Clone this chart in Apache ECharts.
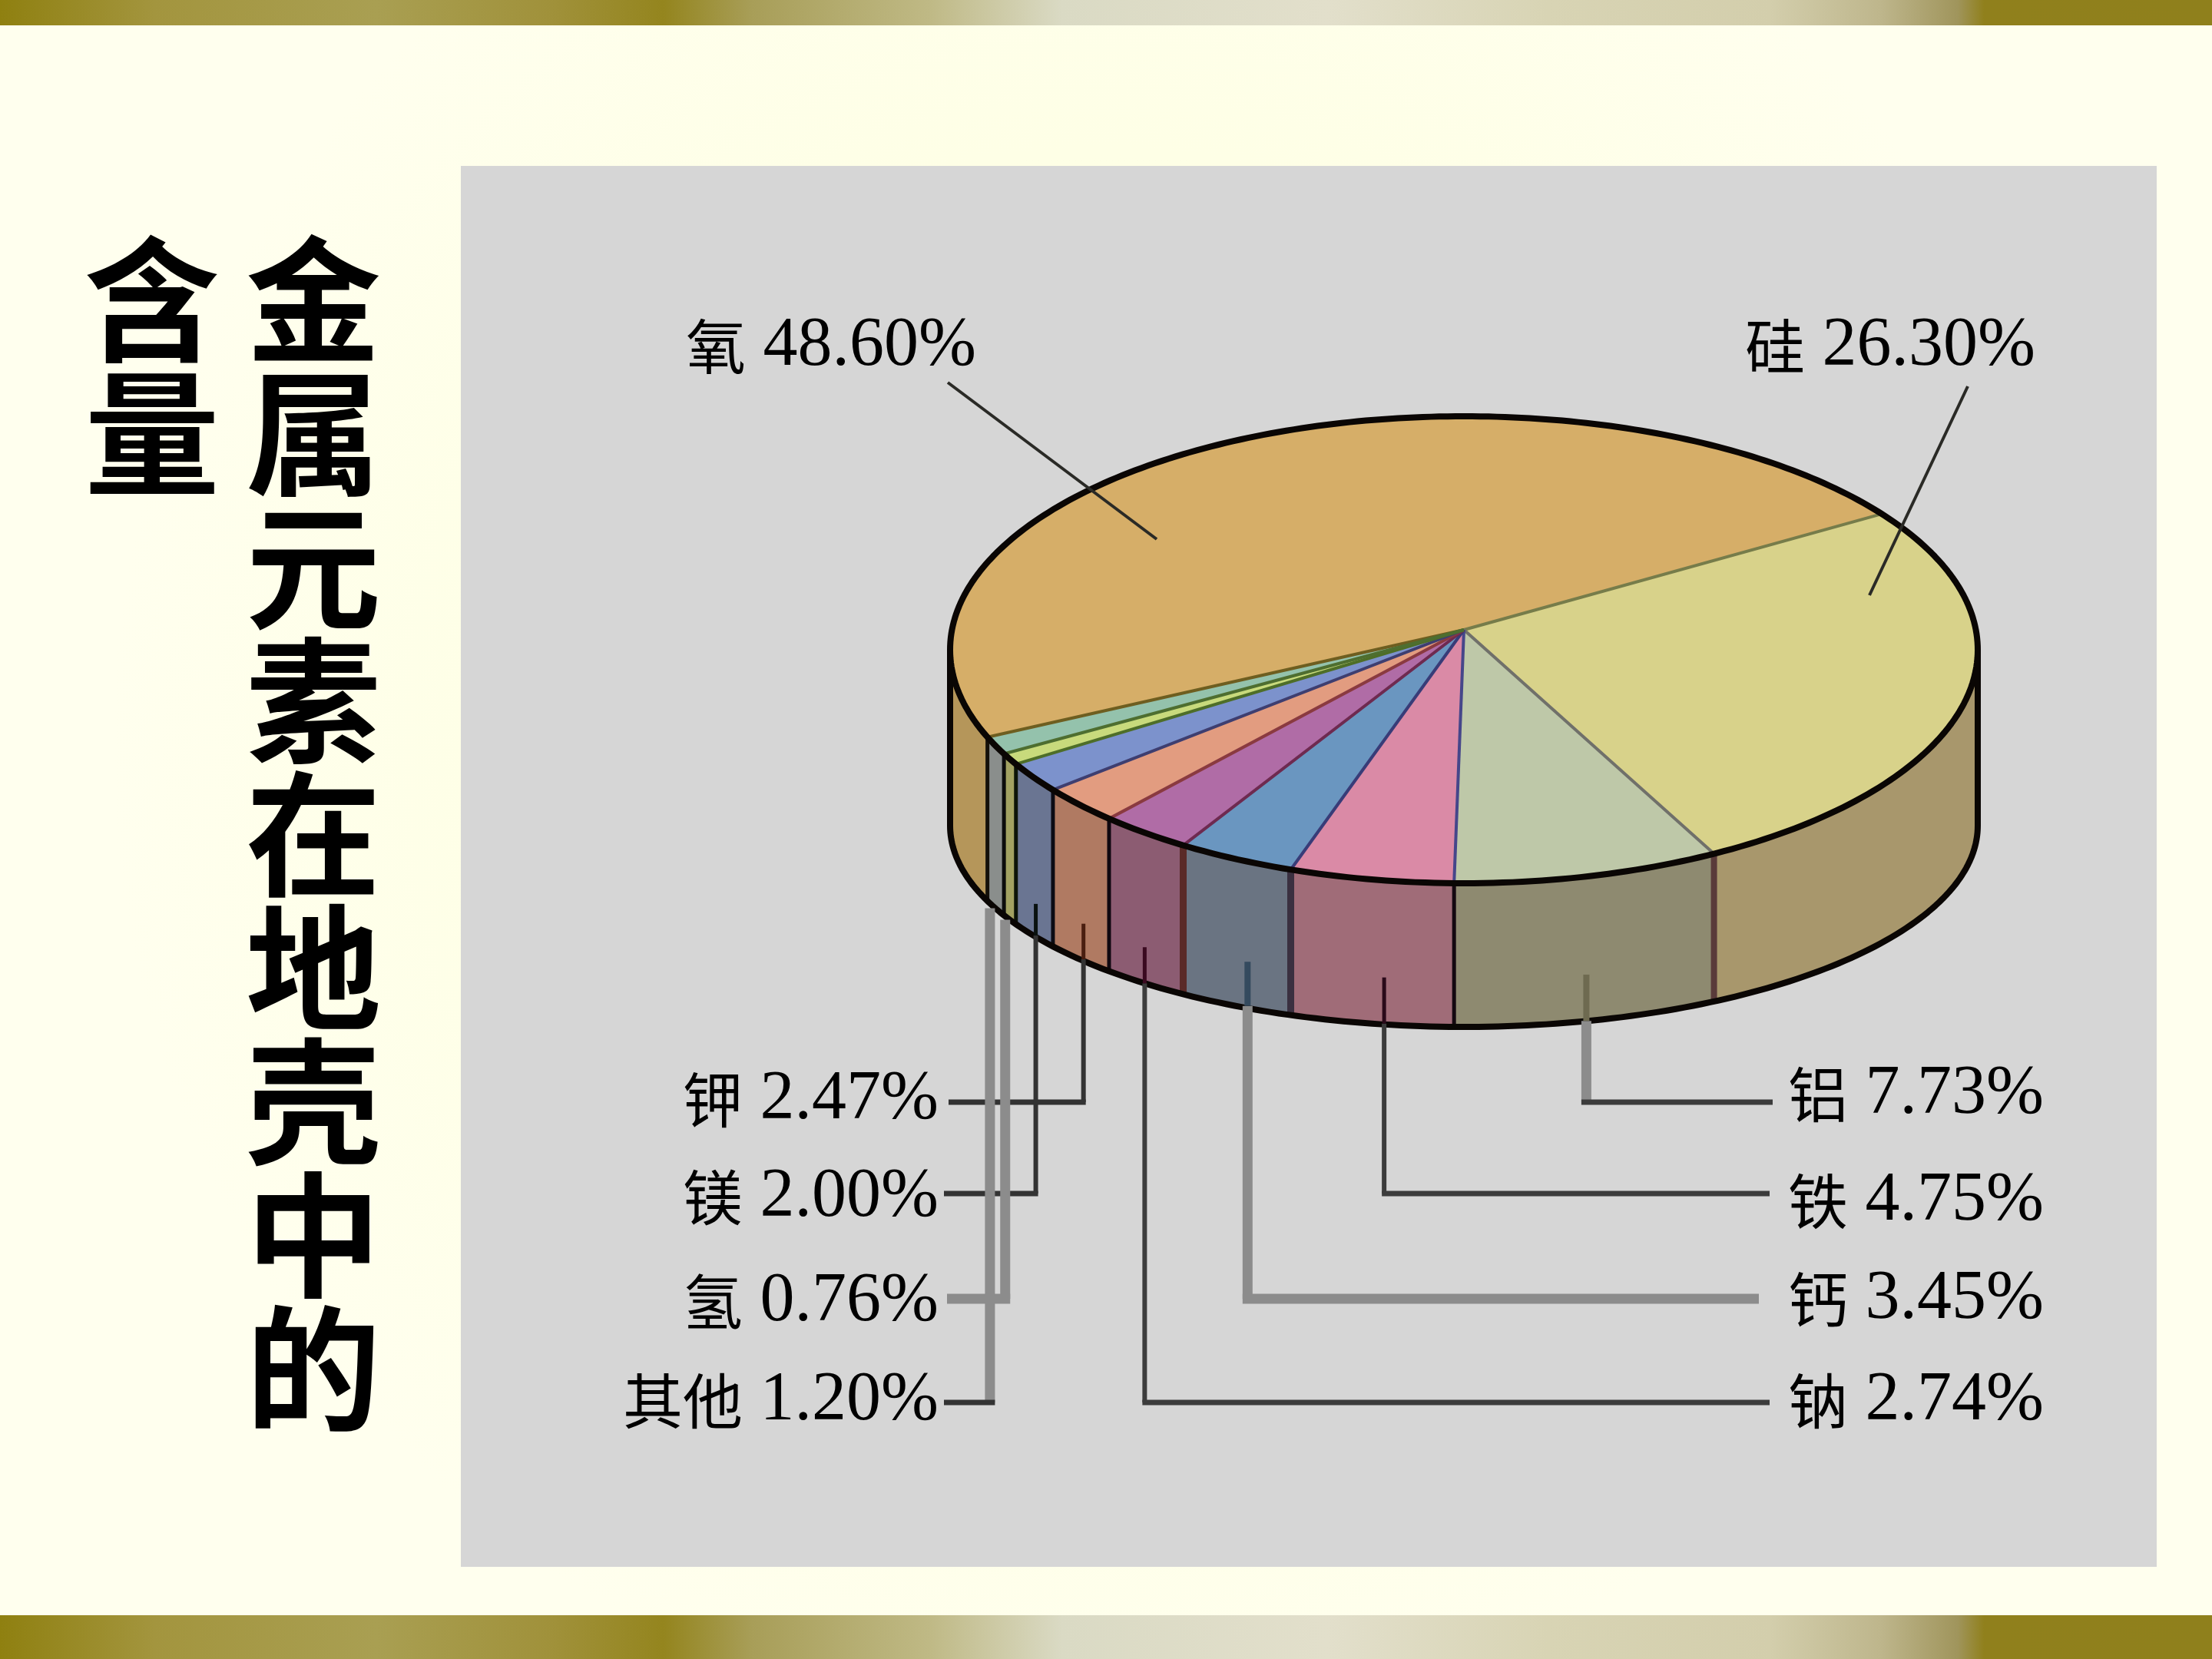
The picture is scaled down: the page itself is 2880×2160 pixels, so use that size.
<!DOCTYPE html>
<html>
<head>
<meta charset="utf-8">
<style>html,body{margin:0;padding:0;background:#fffff0}#c{width:2880px;height:2160px}</style>
<script src="https://cdn.jsdelivr.net/npm/echarts@6/dist/echarts.min.js"></script>
</head>
<body>
<div id="c"></div>
<script>
// ---- data ----
const elements = ['氧','硅','铝','铁','钙','钠','钾','镁','氢','其他'];
const percents = [48.60,26.30,7.73,4.75,3.45,2.74,2.47,2.00,0.76,1.20];
const titleColumns = ['金属元素在地壳中的','含量'];

// ---- styles ----
const topColors  = ['#D6AE68','#D8D28A','#BEC8A8','#DA8AA6','#6A96C0','#B06CA6','#E29C80','#7C92CC','#C8DA7C','#94C2AC'];
const sideColors = ['#B5965A','#A8976C','#8E8A70','#A06C78','#6A7482','#8C5C72','#B07A62','#6A7592','#A2A262','#8A8E8C'];
const topEdge    = ['#6E5E20','#767C4A','#70706A','#46468A','#383C78','#6E2A50','#8A3A40','#3E3E70','#4E6E28','#4E6E30'];
const sideEdge   = ['#14100A','#4F4526','#5A3A3A','#140810','#3A3040','#5A2A28','#100810','#0C0C14','#0C1408','#0C0C0C'];
const edgeWidth  = [5,7,8,5,9,9,5,5,5,5];

// geometry of the tilted disc
const G = {cx:1906, cyTop:846, rx:669, ryTop:304, cyBot:1075, ryBot:262, k:0.0855, startDeg:-31.5};
const rad = d => d*Math.PI/180;
const project = (deg, plane) => {
  const u = Math.cos(rad(deg)), v = Math.sin(rad(deg)), w = 1-G.k*v;
  const ry = plane==='top'?G.ryTop:G.ryBot, cy = plane==='top'?G.cyTop:G.cyBot;
  return [G.cx + G.rx*Math.sqrt(1-G.k*G.k)*u/w, cy + ry*(v-G.k)/w];
};
const total = percents.reduce((a,b)=>a+b,0);
const spans = [];
{ let a = G.startDeg; [1,2,3,4,5,6,7,8,9,0].forEach(i=>{ const s=percents[i]/total*360; spans[i]=[a,a+s]; a+=s; }); }
const silhouette = [Math.asin(G.k)*180/Math.PI, 180-Math.asin(G.k)*180/Math.PI];
const samples = (a,b) => { const n=Math.max(2,Math.ceil(Math.abs(b-a))); const r=[];
  for(let i=0;i<=n;i++) r.push(a+(b-a)*i/n); return r; };

// leaders
const leaderLayout = {
  '铝':{rowY:1435, endX:2308, side:'R', labelY:1425, start:.68, dx:-3, ic:'#6E6A50', iw:8, vc:'#8C8C8C', vw:13, hc:'#3C3C3C', hw:7},
  '铁':{rowY:1554, endX:2304, side:'R', labelY:1564, start:.68, dx:17, ic:'#2A0A1A', iw:5, vc:'#3C3C3C', vw:6,  hc:'#3C3C3C', hw:7},
  '钙':{rowY:1691, endX:2290, side:'R', labelY:1692, start:.70, dx:16, ic:'#344A5E', iw:8, vc:'#8C8C8C', vw:13, hc:'#8C8C8C', hw:13},
  '钠':{rowY:1826, endX:2304, side:'R', labelY:1824, start:.76, dx:0,  ic:'#3A0A20', iw:5, vc:'#3C3C3C', vw:6,  hc:'#3C3C3C', hw:7},
  '钾':{rowY:1435, endX:1235, side:'L', labelY:1432, start:.77, dx:5,  ic:'#4A1E10', iw:5, vc:'#333333', vw:6,  hc:'#333333', hw:7},
  '镁':{rowY:1554, endX:1229, side:'L', labelY:1559, start:.80, dx:3,  ic:'#0A1210', iw:5, vc:'#333333', vw:6,  hc:'#333333', hw:7},
  '氢':{rowY:1691, endX:1233, side:'L', labelY:1695, start:1,   dx:-6, ic:'#8C8C8C', iw:13, vc:'#8C8C8C', vw:13, hc:'#8C8C8C', hw:13},
  '其他':{rowY:1826, endX:1229, side:'L', labelY:1824, start:1, dx:-7, ic:'#8C8C8C', iw:13, vc:'#8C8C8C', vw:13, hc:'#333333', hw:7}
};
const topLeaders = {
  '氧':{from:[1234,498], to:[1506,702], labelX:893, labelY:451},
  '硅':{from:[2562,503], to:[2434,775], labelX:2272, labelY:451}
};
const rich = {
  c:{fontFamily:'"Noto Sans CJK SC"', fontSize:78, fontWeight:400, color:'#1c1c1c', lineHeight:96},
  n:{fontFamily:'"Liberation Serif"', fontSize:90, color:'#1c1c1c', lineHeight:96}
};
const labelText = i => `{c|${elements[i]}}{n| ${percents[i].toFixed(2)}%}`;

const renderSide = (p) => {
  const i = p.dataIndex, [a,b] = spans[i];
  const lo = Math.max(a,silhouette[0]), hi = Math.min(b,silhouette[1]);
  if (hi<=lo) return {type:'group',children:[]};
  const top = samples(lo,hi).map(d=>project(d,'top'));
  const bot = samples(lo,hi).map(d=>project(d,'bot')).reverse();
  const kids = [{type:'polygon', shape:{points:top.concat(bot)}, style:{fill:sideColors[i], stroke:sideColors[i], lineWidth:1}}];
  if (a>=silhouette[0] && a<=silhouette[1]) {
    const x=project(a,'top'), y=project(a,'bot');
    kids.push({type:'line', z2:5, shape:{x1:x[0],y1:x[1],x2:y[0],y2:y[1]}, style:{stroke:sideEdge[i], lineWidth:edgeWidth[i]}});
  }
  return {type:'group', children:kids};
};
const renderTop = (p) => {
  const i = p.dataIndex, [a,b] = spans[i];
  const apex = [G.cx, G.cyTop - G.ryTop*G.k];
  const rim = samples(a,b).map(d=>project(d,'top'));
  return {type:'group', children:[
    {type:'polygon', shape:{points:[apex].concat(rim)}, style:{fill:topColors[i], stroke:topColors[i], lineWidth:1}},
    {type:'line', z2:3, shape:{x1:apex[0],y1:apex[1],x2:rim[0][0],y2:rim[0][1]}, style:{stroke:topEdge[i], lineWidth:4}}
  ]};
};
const renderRim = () => {
  const ring = samples(0,360).map(d=>project(d,'top'));
  const bot = samples(silhouette[0],silhouette[1]).map(d=>project(d,'bot'));
  const l0=project(silhouette[1],'top'), l1=project(silhouette[1],'bot');
  const r0=project(silhouette[0],'top'), r1=project(silhouette[0],'bot');
  const st={stroke:'#0a0604', lineWidth:8, fill:null, lineJoin:'round'};
  return {type:'group', children:[
    {type:'polyline', shape:{points:ring}, style:st},
    {type:'polyline', shape:{points:bot}, style:st},
    {type:'line', shape:{x1:l0[0],y1:l0[1],x2:l1[0],y2:l1[1]}, style:st},
    {type:'line', shape:{x1:r0[0],y1:r0[1],x2:r1[0],y2:r1[1]}, style:st}
  ]};
};
const renderLeader = (p) => {
  const i = p.dataIndex, name = elements[i];
  if (topLeaders[name]) {
    const t = topLeaders[name];
    return {type:'group', children:[
      {type:'line', shape:{x1:t.from[0],y1:t.from[1],x2:t.to[0],y2:t.to[1]}, style:{stroke:'#2a2a26', lineWidth:4}},
      {type:'text', style:{text:labelText(i), rich, x:t.labelX, y:t.labelY, align:'left', verticalAlign:'middle'}}
    ]};
  }
  const L = leaderLayout[name];
  const mid = (spans[i][0]+spans[i][1])/2;
  const tp = project(mid,'top'), bt = project(mid,'bot');
  const x = tp[0]+L.dx, y0 = tp[1]+(bt[1]-tp[1])*L.start;
  const right = L.side==='R';
  return {type:'group', children:[
    {type:'line', shape:{x1:x,y1:bt[1],x2:x,y2:L.rowY}, style:{stroke:L.vc, lineWidth:L.vw}},
    {type:'line', shape:{x1:x,y1:y0,x2:x,y2:bt[1]}, style:{stroke:L.ic, lineWidth:L.iw}},
    {type:'line', shape:{x1:x-(right?L.vw/2:-L.vw/2),y1:L.rowY,x2:L.endX,y2:L.rowY}, style:{stroke:L.hc, lineWidth:L.hw}},
    {type:'text', style:{text:labelText(i), rich, x:right?2328:1222, y:L.labelY, align:right?'left':'right', verticalAlign:'middle'}}
  ]};
};

const itemData = percents.map(v=>[v]);
const titleStyle = {fontFamily:'"Noto Sans CJK SC"', fontSize:176, fontWeight:700, color:'#000', lineHeight:174};
const band = y => ({type:'rect', z:1, shape:{x:0,y:y,width:2880,height:y===0?33:57}, style:{fill:new echarts.graphic.LinearGradient(0,0,1,0,[
  {offset:0,color:'#8F8010'},{offset:.07,color:'#A3953E'},{offset:.17,color:'#A99F52'},{offset:.25,color:'#A0913A'},{offset:.30,color:'#94851E'},
  {offset:.34,color:'#A89E58'},{offset:.42,color:'#BFB985'},{offset:.48,color:'#DADAC4'},{offset:.60,color:'#E2DFCB'},{offset:.70,color:'#D8D4B4'},
  {offset:.80,color:'#D3CEAC'},{offset:.85,color:'#BEB68C'},{offset:.885,color:'#A0955C'},{offset:.897,color:'#90801C'},{offset:1,color:'#8F801C'}])}});

const chart = echarts.init(document.getElementById('c'), null, {renderer:'canvas', width:2880, height:2160});
chart.setOption({
  animation:false,
  backgroundColor:new echarts.graphic.RadialGradient(.5,.45,.6,[{offset:0,color:'#FDFEDF'},{offset:.6,color:'#FEFFE6'},{offset:1,color:'#FFFFEE'}]),
  title:[
    {text:titleColumns[0].split('').join('\n'), left:315, top:298, textStyle:titleStyle},
    {text:titleColumns[1].split('').join('\n'), left:105, top:298, textStyle:titleStyle}
  ],
  graphic:{elements:[
    band(0), band(2103),
    {type:'rect', z:1, shape:{x:600,y:216,width:2208,height:1824}, style:{fill:'#D6D6D6'}}
  ]},
  series:[
    {type:'custom', coordinateSystem:'none', z:2, renderItem:renderSide, data:itemData, silent:true},
    {type:'custom', coordinateSystem:'none', z:3, renderItem:renderTop, data:itemData, silent:true},
    {type:'custom', coordinateSystem:'none', z:4, renderItem:renderRim, data:[[1]], silent:true},
    {type:'custom', coordinateSystem:'none', z:5, renderItem:renderLeader, data:itemData, silent:true}
  ]
});
</script>
</body>
</html>
